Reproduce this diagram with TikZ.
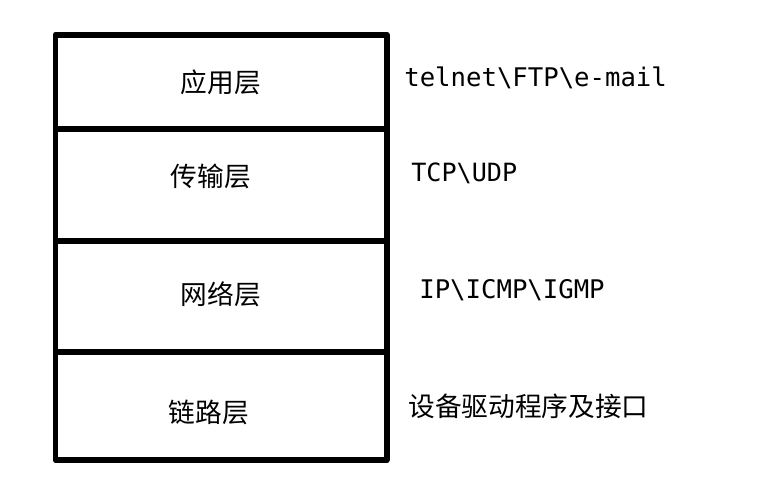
\documentclass[tikz,border=0pt]{standalone}
\usepackage{fontspec}
\newfontfamily\cjk{Noto Sans CJK SC}
\setmonofont{DejaVu Sans Mono}
\usepackage{tikz}
\usetikzlibrary{positioning}

\tikzset{
  layer/.style={font=\cjk\fontsize{15.2pt}{17pt}\selectfont,inner sep=0pt},
  proto/.style={font=\ttfamily\fontsize{14.6pt}{16pt}\selectfont,inner sep=0pt,anchor=west},
}

\begin{document}
\begin{tikzpicture}[x=0.02cm,y=-0.02cm]
\useasboundingbox (0,0) rectangle (765,495);
% stack frame
\draw[line width=0.12cm,line join=round] (55.5,34.5) rectangle (386.5,460);
\draw[line width=0.12cm] (55.5,129) -- (386.5,129) (55.5,241) -- (386.5,241) (55.5,352) -- (386.5,352);
% layer names
\node[layer] (app) at (221,82) {应用层};
\node[layer] (trans) at (211,176) {传输层};
\node[layer] (net) at (221,294) {网络层};
\node[layer] (link) at (209,412) {链路层};
% protocols
\node[proto] (appp) at (404,78) {telnet\textbackslash FTP\textbackslash e-mail};
\node[proto,font=\ttfamily\fontsize{14.3pt}{16pt}\selectfont] (transp) at (411,173) {TCP\textbackslash UDP};
\node[proto] (netp) at (419,290) {IP\textbackslash ICMP\textbackslash IGMP};
\node[layer,anchor=west] (linkp) at (408,406) {设备驱动程序及接口};
\end{tikzpicture}
\end{document}
